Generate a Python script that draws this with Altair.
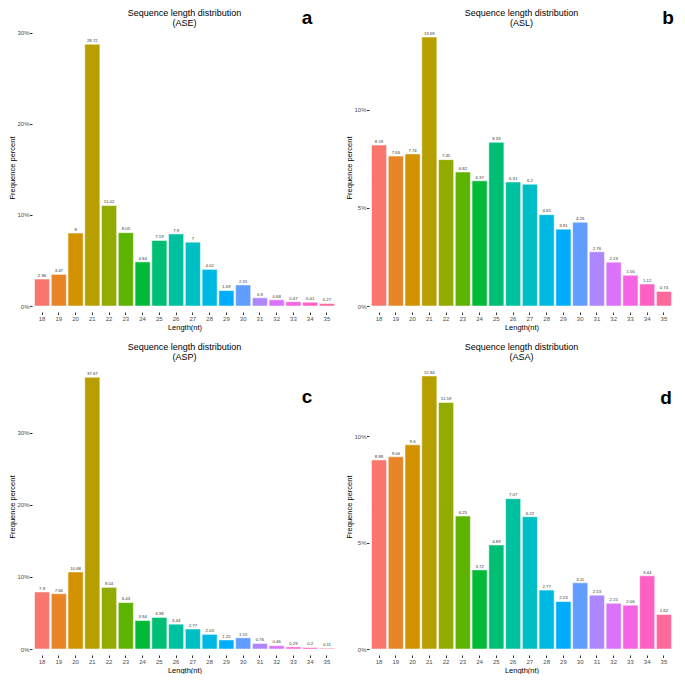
import altair as alt
import numpy as np
import pandas as pd

# ---- data ----
lengths = list(range(18, 36))
ase = [2.96, 3.47, 8, 28.72, 11.02, 8.05, 4.84, 7.19, 7.9, 7, 4.02, 1.69, 2.31, 0.9, 0.68, 0.47, 0.41, 0.27]
asl = [8.19, 7.63, 7.74, 13.69, 7.45, 6.82, 6.37, 8.33, 6.31, 6.2, 4.65, 3.91, 4.26, 2.76, 2.23, 1.56, 1.12, 0.74]
asp = [7.9, 7.66, 10.68, 37.67, 8.54, 6.43, 3.94, 4.38, 3.44, 2.77, 2.03, 1.25, 1.55, 0.76, 0.46, 0.29, 0.2, 0.11]
asa = [8.89, 9.04, 9.6, 12.84, 11.59, 6.25, 3.72, 4.89, 7.07, 6.22, 2.77, 2.23, 3.11, 2.53, 2.15, 2.06, 3.44, 1.62]

FONT = "Liberation Sans"


def hcl_hex(h, c=100.0, l=65.0):
    """ggplot2 hue palette colour (polar LUV -> sRGB)."""
    hr = np.deg2rad(h)
    U, V = c * np.cos(hr), c * np.sin(hr)
    Y = 100.0 * ((l + 16) / 116) ** 3
    Xn, Yn, Zn = 95.047, 100.0, 108.883
    den = Xn + 15 * Yn + 3 * Zn
    un, vn = 4 * Xn / den, 9 * Yn / den
    u = U / (13 * l) + un
    v = V / (13 * l) + vn
    X = 9.0 * Y * u / (4 * v)
    Z = -X / 3 - 5 * Y + 3 * Y / v
    M = np.array([[3.240479, -1.537150, -0.498535],
                  [-0.969256, 1.875992, 0.041556],
                  [0.055648, -0.204043, 1.057311]])
    rgb = M @ (np.array([X, Y, Z]) / 100.0)
    out = []
    for x in rgb:
        x = 12.92 * x if x <= 0.0031308 else 1.055 * (x ** (1 / 2.4)) - 0.055
        out.append(int(round(min(max(x, 0), 1) * 255)))
    return "#%02X%02X%02X" % tuple(out)


palette = [hcl_hex(15 + 20 * i) for i in range(len(lengths))]


def panel(values, tag, letter, ymax, yticks, height, lx, ly, toff):
    df = pd.DataFrame({
        "length": lengths,
        "value": values,
        "label": [f"{v:g}" for v in values],
    })
    base = alt.Chart(df).encode(
        x=alt.X("length:O",
                scale=alt.Scale(paddingInner=0.1, paddingOuter=0.15),
                axis=alt.Axis(title="Length(nt)", labelAngle=0, offset=6)),
        y=alt.Y("value:Q",
                scale=alt.Scale(domain=[0, ymax], nice=False, zero=True),
                axis=alt.Axis(title="Frequence percent", values=yticks,
                              labelExpr="datum.value + '%'",
                              titlePadding=0.5, labelPadding=0.5)),
    )
    bars = base.mark_bar(stroke="white", strokeWidth=0.5).encode(
        color=alt.Color("length:O", scale=alt.Scale(domain=lengths, range=palette), legend=None)
    )
    text = base.mark_text(baseline="bottom", dy=-1.2, fontSize=4.3,
                          color="#333333", font=FONT).encode(text="label:N")
    let = alt.Chart(pd.DataFrame({"t": [letter]})).mark_text(
        fontSize=19, fontWeight="bold", font=FONT, color="black"
    ).encode(x=alt.value(lx), y=alt.value(ly), text="t:N")
    return alt.layer(bars, text, let).properties(
        width=305, height=height,
        title=alt.TitleParams(["Sequence length distribution", f"({tag})"],
                              frame="group", offset=toff),
    )


pa = panel(ase, "ASE", "a", 30.4, [0, 10, 20, 30], 277, 275, -11, -18.5)
pb = panel(asl, "ASL", "b", 14.1, [0, 5, 10], 277, 299, -11, -18.5)
pc = panel(asp, "ASP", "c", 39.5, [0, 10, 20, 30], 285, 275, 33, 2)
pd_ = panel(asa, "ASA", "d", 13.4, [0, 5, 10], 285, 297, 34, 2)

row1 = alt.hconcat(pa, pb, spacing=8).resolve_scale(x="independent", y="independent")
row2 = alt.hconcat(pc, pd_, spacing=8).resolve_scale(x="independent", y="independent")

chart = alt.vconcat(row1, row2, spacing=12).resolve_scale(
    x="independent", y="independent"
).properties(
    padding={"left": 0, "top": 0, "right": 0, "bottom": 0}
).configure(
    background="white"
).configure_view(
    stroke=None
).configure_axis(
    grid=False, domain=False, ticks=True, tickSize=2.5, tickColor="#333333",
    labelFont=FONT, labelFontSize=6, labelColor="#4D4D4D", labelPadding=1,
    titleFont=FONT, titleFontSize=7.5, titleFontWeight="normal", titleColor="black",
    titlePadding=2,
).configure_title(
    font=FONT, fontSize=9, fontWeight="normal", color="black", anchor="middle",
    lineHeight=10
)

chart.save("out.html", embed_options={"renderer": "svg", "actions": False})
